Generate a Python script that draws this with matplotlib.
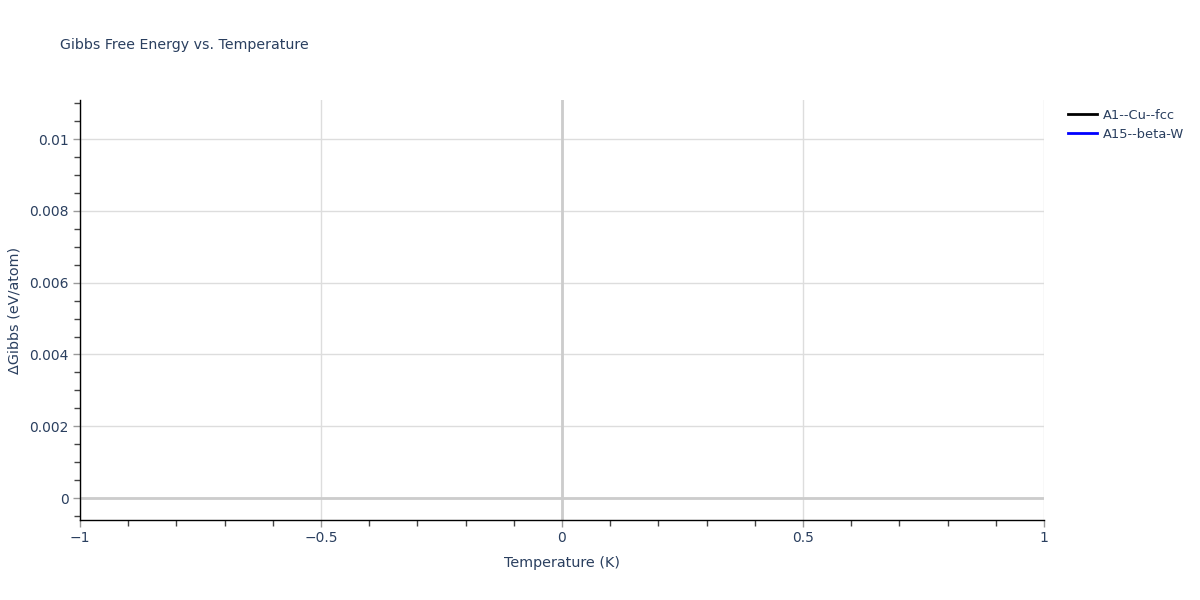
import matplotlib
matplotlib.use("Agg")
import matplotlib.pyplot as plt
from matplotlib.ticker import MultipleLocator

# Data
series_names = ["A1--Cu--fcc", "A15--beta-W"]
series_colors = ["black", "blue"]
temperature = [[0.0], [0.0]]
delta_gibbs = [[0.0], [0.0]]

x_ticks = [-1, -0.5, 0, 0.5, 1]
x_tick_labels = ["\u22121", "\u22120.5", "0", "0.5", "1"]
y_ticks = [0, 0.002, 0.004, 0.006, 0.008, 0.01]
y_tick_labels = ["0", "0.002", "0.004", "0.006", "0.008", "0.01"]

text_color = "#2a3f5f"
plt.rcParams['font.family'] = ['DejaVu Sans']

fig = plt.figure(figsize=(12, 6), dpi=100)
ax = fig.add_axes([80/1200, 80/600, (1044-80)/1200, 420/600])

ax.axhline(0, color="#cccccc", lw=2, zorder=1)
ax.axvline(0, color="#cccccc", lw=2, zorder=1)

for name, col, t, g in zip(series_names, series_colors, temperature, delta_gibbs):
    ax.plot(t, g, color=col, lw=2, label=name, zorder=3)

ax.set_xlim(-1, 1)
ax.set_ylim(-0.000613, 0.01109)

ax.set_xticks(x_ticks)
ax.set_xticklabels(x_tick_labels)
ax.set_yticks(y_ticks)
ax.set_yticklabels(y_tick_labels)
ax.xaxis.set_minor_locator(MultipleLocator(0.1))
ax.yaxis.set_minor_locator(MultipleLocator(0.0005))

ax.grid(True, which="major", color="#dddddd", lw=1, zorder=0)
ax.set_axisbelow(True)

for s in ["top", "right"]:
    ax.spines[s].set_visible(False)
for s in ["left", "bottom"]:
    ax.spines[s].set_color("black")
    ax.spines[s].set_linewidth(1)

ax.tick_params(which="major", direction="out", length=5, width=1, color="#999999",
               labelcolor=text_color, labelsize=10, pad=3)
ax.tick_params(which="minor", direction="out", length=4, width=1, color="#444444")

ax.set_xlabel("Temperature (K)", color=text_color, fontsize=10.4, labelpad=8)
ax.set_ylabel("\u0394Gibbs (eV/atom)", color=text_color, fontsize=10.4, labelpad=6)

fig.text(60/1200, 1 - 45/600, "Gibbs Free Energy vs. Temperature", color=text_color,
         fontsize=10.2, va="center", ha="left")

leg = fig.legend(loc="upper left", bbox_to_anchor=(1068/1200, 1 - 109/600), frameon=False,
                 fontsize=9.4, handlelength=2.2, handletextpad=0.46, labelspacing=0.45,
                 borderaxespad=0, borderpad=0)
for t in leg.get_texts():
    t.set_color(text_color)

fig.savefig("out.png", dpi=100)
